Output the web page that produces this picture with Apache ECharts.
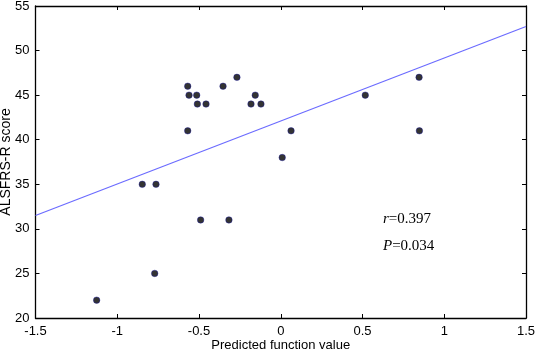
<!DOCTYPE html>
<html>
<head>
<meta charset="utf-8">
<script src="https://cdn.jsdelivr.net/npm/echarts@6/dist/echarts.min.js"></script>
<style>html,body{margin:0;padding:0;background:#fff}#c{width:536px;height:352px}</style>
</head>
<body>
<div id="c"></div>
<script>
var predicted = [-1.126, -0.847, -0.763, -0.771, -0.569, -0.561, -0.569, -0.514, -0.510, -0.457, -0.49, -0.353, -0.317, -0.268, -0.182, -0.156, -0.121, 0.009, 0.063, 0.517, 0.846, 0.848];
var scores =    [22, 35, 35, 25, 46, 45, 41, 45, 44, 44, 31, 46, 31, 47, 44, 45, 44, 38, 41, 45, 47, 41];
var fitX = [-1.5, 1.5];
var fitY = [31.5, 52.7];
var statR = '0.397';
var statP = '0.034';

var points = predicted.map(function (x, i) { return [x, scores[i]]; });
var fit = fitX.map(function (x, i) { return [x, fitY[i]]; });

var chart = echarts.init(document.getElementById('c'));
var lab = { color: '#000', fontFamily: 'Liberation Sans, Arial, sans-serif', fontSize: 13 };
var line = { show: true, onZero: false, lineStyle: { color: '#000', width: 1.3 } };
var tick = { show: true, inside: true, length: 4, lineStyle: { color: '#000', width: 1 } };
var serifI = { fontFamily: 'Liberation Serif, Times New Roman, serif', fontStyle: 'italic', fontSize: 15, fill: '#000' };
var serifN = { fontFamily: 'Liberation Serif, Times New Roman, serif', fontSize: 15, fill: '#000' };
chart.setOption({
  animation: false,
  backgroundColor: '#fff',
  grid: { left: 35.5, right: 10, top: 6, bottom: 34, containLabel: false, outerBoundsMode: 'none' },
  xAxis: [{
    type: 'value', min: -1.5, max: 1.5, interval: 0.5,
    axisLine: line, axisTick: tick, splitLine: { show: false },
    axisLabel: Object.assign({ margin: 7 }, lab),
    name: 'Predicted function value', nameLocation: 'middle', nameGap: 20.5, nameMoveOverlap: false,
    nameTextStyle: { color: '#000', fontFamily: 'Liberation Sans, Arial, sans-serif', fontSize: 13 }
  }, {
    type: 'value', position: 'top', min: -1.5, max: 1.5, interval: 0.5,
    axisLine: line, axisTick: tick, splitLine: { show: false }, axisLabel: { show: false }
  }],
  yAxis: [{
    type: 'value', min: 20, max: 55, interval: 5,
    axisLine: line, axisTick: tick, splitLine: { show: false },
    axisLabel: Object.assign({ margin: 6 }, lab),
    name: 'ALSFRS-R score', nameLocation: 'middle', nameGap: 22, nameMoveOverlap: false,
    nameTextStyle: { color: '#000', fontFamily: 'Liberation Sans, Arial, sans-serif', fontSize: 14 }
  }, {
    type: 'value', position: 'right', min: 20, max: 55, interval: 5,
    axisLine: line, axisTick: tick, splitLine: { show: false }, axisLabel: { show: false }
  }],
  series: [{
    type: 'line', data: fit, symbol: 'none', silent: true,
    lineStyle: { color: '#6b6bff', width: 1.2 }
  }, {
    type: 'scatter', data: points, symbol: 'circle', symbolSize: 6.5,
    itemStyle: { color: '#000000', borderColor: '#1010a0', borderWidth: 0.5 }
  }],
  graphic: [{
    type: 'text', x: 383, y: 212,
    style: { text: '{i|r}{n|=' + statR + '}', rich: { i: serifI, n: serifN } }
  }, {
    type: 'text', x: 383, y: 239,
    style: { text: '{i|P}{n|=' + statP + '}', rich: { i: serifI, n: serifN } }
  }]
});
</script>
</body>
</html>
